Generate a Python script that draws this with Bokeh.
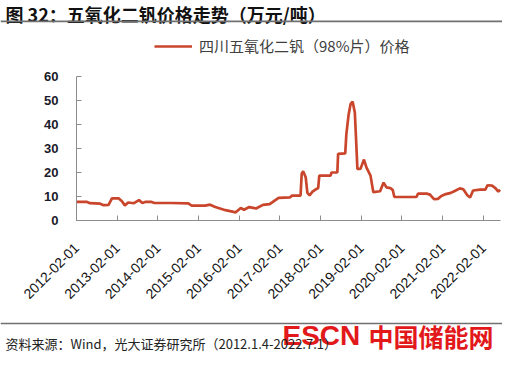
import math
import pandas as pd
from bokeh.plotting import figure
from bokeh.models import (Range1d, FixedTicker, DatetimeTickFormatter, Legend, LegendItem,
                          Label, Span, BoxAnnotation)
from bokeh.embed import file_html
from bokeh.resources import INLINE

# ---------------- data ----------------
dates = [
    "2012-02-01", "2012-05-01", "2012-06-01", "2012-09-01", "2012-10-01", "2012-11-15",
    "2012-12-15", "2013-02-15", "2013-03-15", "2013-04-10", "2013-05-10", "2013-07-01",
    "2013-08-15", "2013-09-15", "2013-10-15", "2013-12-01", "2014-01-01", "2014-06-01",
    "2014-11-01", "2014-12-01", "2015-04-01", "2015-05-15", "2015-07-01", "2015-10-01",
    "2016-01-01", "2016-02-15", "2016-03-15", "2016-05-01", "2016-07-01", "2016-09-01",
    "2016-11-01", "2016-12-15", "2017-01-20", "2017-05-01", "2017-05-20", "2017-08-05",
    "2017-08-15", "2017-08-28", "2017-09-20", "2017-10-05", "2017-10-25", "2017-11-20",
    "2017-12-20", "2018-01-10", "2018-01-20", "2018-05-01", "2018-05-10", "2018-07-01",
    "2018-07-08", "2018-09-10", "2018-09-20", "2018-10-10", "2018-10-28", "2018-11-15",
    "2018-12-05", "2018-12-20", "2018-12-28", "2019-01-25", "2019-02-25", "2019-03-20",
    "2019-04-25", "2019-05-20", "2019-07-20", "2019-08-20", "2019-09-15", "2019-10-20",
    "2019-11-10", "2019-11-25", "2020-02-01", "2020-06-10", "2020-06-25", "2020-09-10",
    "2020-10-10", "2020-11-15", "2020-12-20", "2021-01-20", "2021-03-01", "2021-04-15",
    "2021-05-20", "2021-07-05", "2021-08-05", "2021-09-10", "2021-10-05", "2021-11-01",
    "2022-01-01", "2022-02-20", "2022-03-10", "2022-04-20", "2022-05-20", "2022-06-15",
    "2022-07-01",
]
prices = [
    7.8, 7.8, 7.2, 7.0, 6.4, 6.5,
    9.2, 9.2, 8.0, 6.3, 7.5, 7.2,
    8.5, 7.3, 7.8, 7.8, 7.3, 7.3,
    7.1, 6.2, 6.2, 6.6, 5.6, 4.3,
    3.4, 5.2, 4.5, 5.6, 5.0, 6.5,
    6.8, 8.3, 9.4, 9.6, 10.4, 10.4,
    19.5, 20.5, 18.0, 11.5, 10.5, 12.0,
    13.0, 13.5, 18.7, 18.7, 20.0, 20.0,
    27.8, 28.0, 36.0, 44.0, 48.5, 49.6,
    45.0, 30.0, 21.5, 21.5, 25.4, 22.0,
    18.7, 11.8, 12.2, 15.8, 13.8, 13.5,
    12.8, 9.8, 9.8, 9.8, 11.2, 11.2,
    10.8, 8.9, 9.0, 10.2, 11.0, 11.5,
    12.3, 13.4, 13.0, 10.5, 9.6, 12.5,
    12.9, 12.9, 14.7, 14.5, 13.5, 12.0,
    12.8,
]
tick_dates = ["2012-02-01", "2013-02-01", "2014-02-01", "2015-02-01", "2016-02-01",
              "2017-02-01", "2018-02-01", "2019-02-01", "2020-02-01", "2021-02-01",
              "2022-02-01"]
y_ticks = [0, 10, 20, 30, 40, 50, 60]
x_start, x_end = "2012-02-01", "2022-07-05"
y_min, y_max = 0, 60

title_text = "图 32：五氧化二钒价格走势（万元/吨）"
legend_text = "四川五氧化二钒（98%片）价格"
source_text = "资料来源：Wind，光大证券研究所（2012.1.4-2022.7.1）"
wm_latin = "ESCN"
wm_cjk = "中国储能网"

LINE_COLOR = "#C9462C"
SEP_COLOR = "#707070"
AXIS_COLOR = "#8c8c8c"
CJK = "Noto Sans CJK SC"

# ---------------- geometry: the frame fills the canvas, chart area inside it ----------------
W, H = 502, 354
AX_L, AX_R, AX_T, AX_B = 76, 500, 76, 220   # chart area, canvas px from top-left


def ms(d):
    return pd.Timestamp(d).value / 1e6


t0, t1 = ms(x_start), ms(x_end)
mpp = (t1 - t0) / (AX_R - AX_L)
upp = (y_max - y_min) / (AX_B - AX_T)


def y_at(cy):
    """data y of a canvas row (px from the top)."""
    return y_max + (AX_T - cy) * upp


p = figure(width=W, height=H, x_axis_type="datetime", output_backend="svg",
           toolbar_location=None,
           x_range=Range1d(t0 - AX_L * mpp, t1 + (W - AX_R) * mpp),
           y_range=Range1d(y_at(H), y_at(0)),
           min_border=0, min_border_left=0, min_border_right=0,
           min_border_top=0, min_border_bottom=0)
p.outline_line_color = None
p.grid.visible = False
p.background_fill_color = "white"
p.border_fill_color = "white"

r = p.line(pd.to_datetime(dates), prices, line_color=LINE_COLOR, line_width=2.7)

# axes drawn at fixed positions inside the frame
p.xaxis.fixed_location = y_min
p.xaxis.bounds = (t0, t1)
p.yaxis.fixed_location = t0
p.yaxis.bounds = (y_min, y_max)
p.xaxis.ticker = FixedTicker(ticks=[ms(d) for d in tick_dates])
p.xaxis.formatter = DatetimeTickFormatter(days="%Y-%m-%d", months="%Y-%m-%d", years="%Y-%m-%d")
p.xaxis.major_label_orientation = math.pi / 4
p.yaxis.ticker = FixedTicker(ticks=y_ticks)
for ax in (p.xaxis[0], p.yaxis[0]):
    ax.axis_line_color = AXIS_COLOR
    ax.major_tick_line_color = AXIS_COLOR
    ax.major_tick_in = 5
    ax.major_tick_out = 0
    ax.minor_tick_line_color = None
    ax.major_label_text_font = "Liberation Sans"
p.xaxis.major_label_text_font_size = "14px"
p.xaxis.major_label_text_color = "#111111"
p.xaxis.major_label_standoff = 25
p.yaxis.major_label_text_font_size = "13px"
p.yaxis.major_label_text_font_style = "bold"
p.yaxis.major_label_text_color = "#1a1a2a"
p.yaxis.major_label_standoff = 18

# legend (location: bottom-left corner, measured up from the canvas bottom)
p.add_layout(Legend(items=[LegendItem(label=legend_text, renderers=[r])],
                    location=(154, H - 56), glyph_width=38, glyph_height=18, label_height=18,
                    padding=0, margin=0, spacing=0, label_standoff=7,
                    border_line_color=None, background_fill_alpha=0,
                    label_text_font=CJK, label_text_font_size="15px",
                    label_text_color="#404040"))


def label(text, x, y_top, **kw):
    """x, y in canvas px from the top-left corner."""
    p.add_layout(Label(x=x, y=H - y_top, x_units="screen", y_units="screen", text=text, **kw))


label(title_text, 5, 0, text_font=CJK, text_font_size="18px", text_font_style="bold",
      text_color="#111111", text_baseline="top", text_align="left")
# horizontal rule under the title (full frame width) and above the source line
p.add_layout(BoxAnnotation(top=y_at(20), bottom=y_at(21.8), fill_color=SEP_COLOR,
                           fill_alpha=1, line_color=None))
p.add_layout(Span(location=y_at(323), dimension="width", line_color=SEP_COLOR, line_width=1.5))
label(wm_latin, 282, 335, text_font="Liberation Sans", text_font_size="28px",
      text_font_style="bold", text_color="#E2181B", text_baseline="middle", text_align="left")
label(wm_cjk, 368, 335, text_font=CJK, text_font_size="25px",
      text_font_style="bold", text_color="#E2181B", text_baseline="middle", text_align="left")
label(source_text, 5, 343, text_font=CJK, text_font_size="13px", text_color="#222222",
      text_baseline="middle", text_align="left")

open("out.html", "w").write(file_html(p, INLINE))
